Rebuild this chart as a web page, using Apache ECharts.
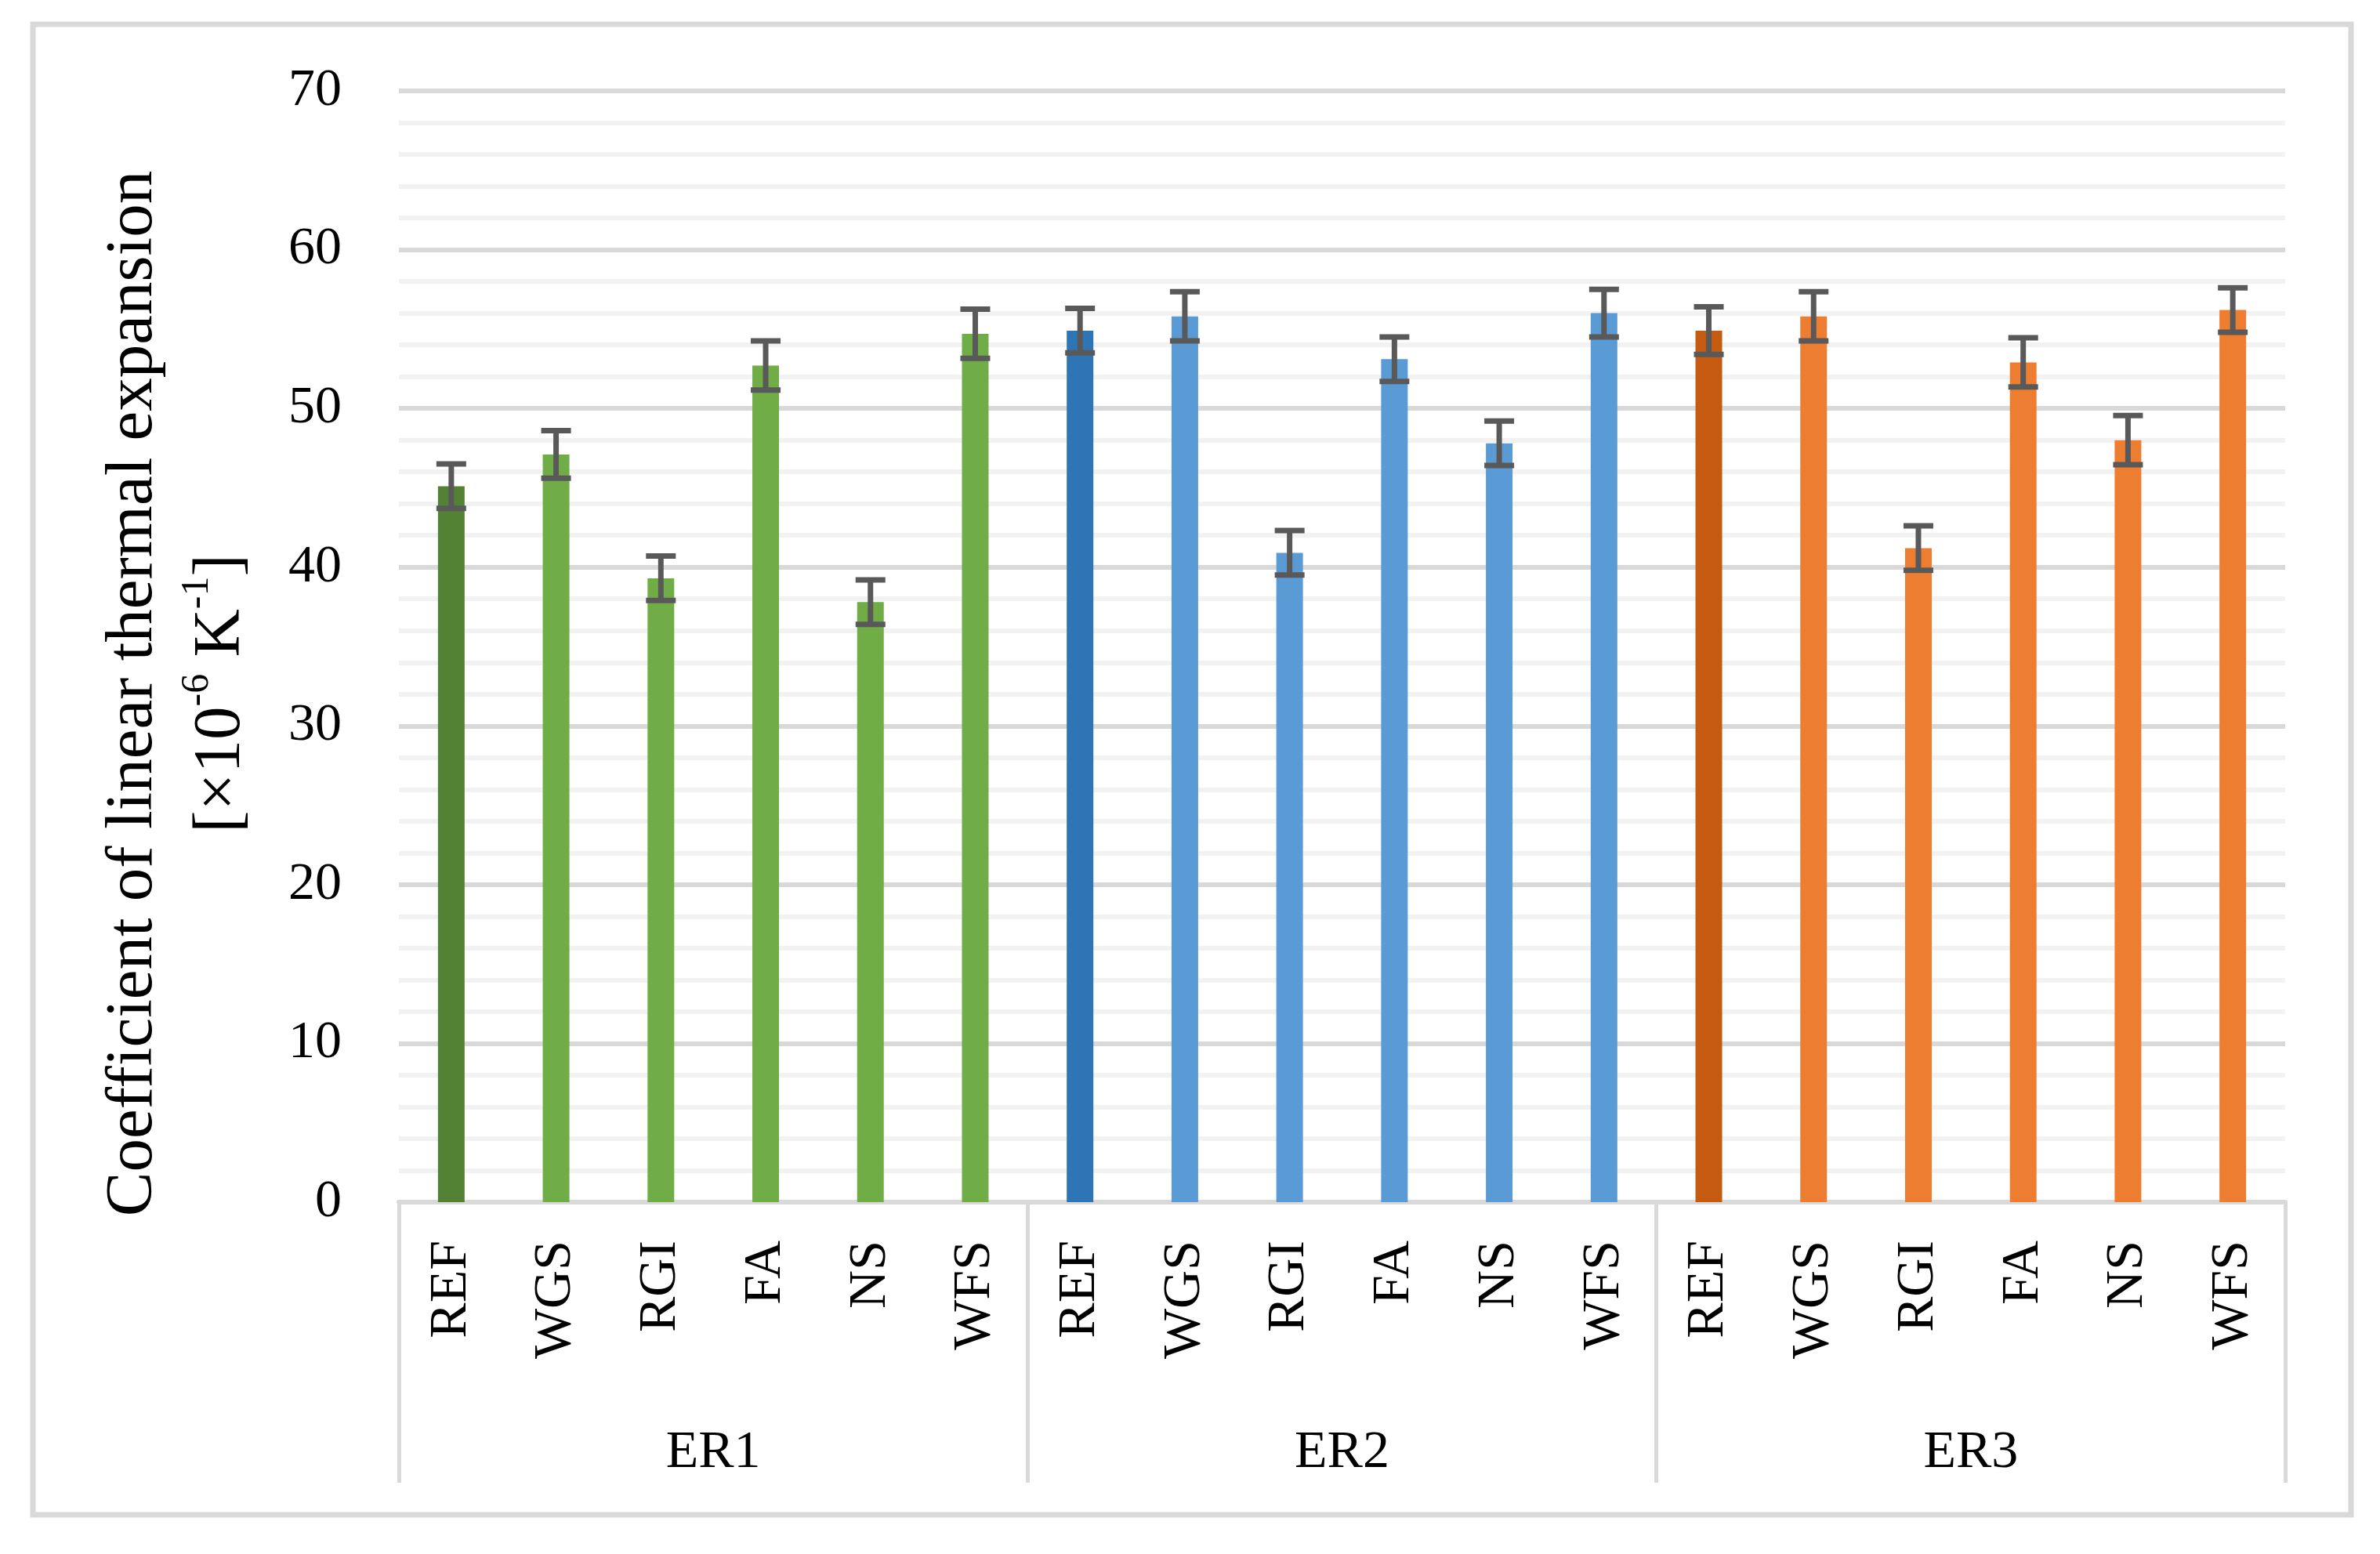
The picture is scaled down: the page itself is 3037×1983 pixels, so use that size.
<!DOCTYPE html>
<html>
<head>
<meta charset="utf-8">
<script src="https://cdn.jsdelivr.net/npm/echarts@6/dist/echarts.min.js"></script>
<style>
html,body{margin:0;padding:0;background:#fff;}
#chart{width:3037px;height:1983px;}
</style>
</head>
<body>
<div id="chart"></div>
<script>
// ---- data ----
const groups = ['ER1', 'ER2', 'ER3'];
const materials = ['REF', 'WGS', 'RGI', 'FA', 'NS', 'WFS'];
const er1Values = [45.1, 47.1, 39.3, 52.7, 37.8, 54.7];
const er2Values = [54.9, 55.8, 40.9, 53.1, 47.8, 56.0];
const er3Values = [54.9, 55.8, 41.2, 52.9, 48.0, 56.2];
const er1Errors = [1.4, 1.5, 1.4, 1.55, 1.4, 1.55];
const er2Errors = [1.4, 1.55, 1.4, 1.4, 1.4, 1.5];
const er3Errors = [1.5, 1.55, 1.4, 1.55, 1.55, 1.4];
const yTicks = { min: 0, max: 70, interval: 10 };

// ---- styling ----
const FONT = '"Liberation Serif", "DejaVu Serif", serif';
const groupColors = [
  ['#548235', '#70AD47'],
  ['#2E75B6', '#5B9BD5'],
  ['#C55A11', '#ED7D31']
];
const values = [er1Values, er2Values, er3Values];
const errors = [er1Errors, er2Errors, er3Errors];

const categories = [];
const barData = [];
const errData = [];
groups.forEach((g, gi) => {
  materials.forEach((m, mi) => {
    const idx = categories.length;
    categories.push(m);
    barData.push({
      value: values[gi][mi],
      itemStyle: { color: groupColors[gi][mi === 0 ? 0 : 1] }
    });
    errData.push([idx, values[gi][mi], errors[gi][mi]]);
  });
});

const chart = echarts.init(document.getElementById('chart'), null, { renderer: 'canvas' });

const option = {
  backgroundColor: '#ffffff',
  animation: false,
  textStyle: { fontFamily: FONT },
  grid: { left: 509, right: 121, top: 116, bottom: 449, containLabel: false },
  graphic: [{
    type: 'rect',
    shape: { x: 42, y: 31, width: 2958, height: 1902 },
    style: { fill: 'none', stroke: '#d9d9d9', lineWidth: 7 },
    silent: true
  }],
  xAxis: [{
    type: 'category',
    data: categories,
    position: 'bottom',
    axisLine: { show: true, lineStyle: { color: '#d9d9d9', width: 6 } },
    axisTick: { show: false },
    axisLabel: {
      rotate: 90, interval: 0, margin: 49,
      fontSize: 68, fontFamily: FONT, color: '#000'
    },
    splitLine: { show: false }
  }, {
    type: 'category',
    data: groups,
    position: 'bottom',
    axisLine: { show: false },
    axisTick: { show: true, length: 358, interval: 0, lineStyle: { color: '#d9d9d9', width: 5 } },
    axisLabel: { interval: 0, margin: 286, fontSize: 68, fontFamily: FONT, color: '#000' },
    splitLine: { show: false }
  }],
  yAxis: {
    type: 'value',
    min: yTicks.min, max: yTicks.max, interval: yTicks.interval,
    axisLine: { show: false },
    axisTick: { show: false },
    axisLabel: { margin: 73, fontSize: 68, fontFamily: FONT, color: '#000' },
    splitLine: { show: true, lineStyle: { color: '#d9d9d9', width: 6 } },
    minorTick: { show: false, splitNumber: 5 },
    minorSplitLine: { show: true, lineStyle: { color: '#f2f2f2', width: 6 } },
    name: '{t|Coefficient of linear thermal expansion}\n{t|[×10}{s|-6}{t| K}{s|-1}{t|]}',
    nameLocation: 'middle',
    nameRotate: 90,
    nameGap: 170,
    nameTextStyle: {
      fontFamily: FONT, color: '#000',
      padding: [0, 120, 0, 0],
      rich: {
        t: { fontSize: 85, fontFamily: FONT, color: '#000', lineHeight: 112, verticalAlign: 'middle' },
        s: { fontSize: 50, fontFamily: FONT, color: '#000', lineHeight: 80, verticalAlign: 'top' }
      }
    }
  },
  series: [{
    type: 'bar',
    xAxisIndex: 0,
    data: barData,
    barWidth: 34,
    z: 2
  }, {
    type: 'custom',
    xAxisIndex: 0,
    data: errData,
    encode: { x: 0, y: [1, 2] },
    z: 5,
    renderItem: function (params, api) {
      const idx = api.value(0);
      const v = api.value(1);
      const e = api.value(2);
      const hi = api.coord([idx, v + e]);
      const lo = api.coord([idx, v - e]);
      const half = 19;
      const style = { stroke: '#595959', lineWidth: 7 };
      return {
        type: 'group',
        children: [
          { type: 'line', shape: { x1: hi[0], y1: hi[1], x2: lo[0], y2: lo[1] }, style: style },
          { type: 'line', shape: { x1: hi[0] - half, y1: hi[1], x2: hi[0] + half, y2: hi[1] }, style: style },
          { type: 'line', shape: { x1: lo[0] - half, y1: lo[1], x2: lo[0] + half, y2: lo[1] }, style: style }
        ]
      };
    }
  }]
};
chart.setOption(option);
</script>
</body>
</html>
